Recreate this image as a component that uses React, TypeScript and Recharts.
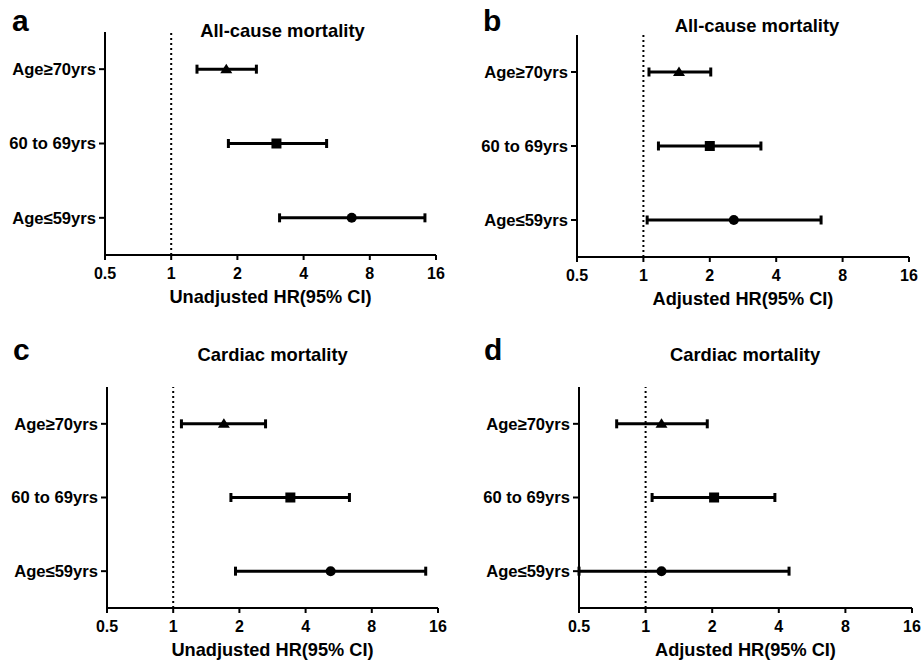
import { ScatterChart, Scatter, XAxis, YAxis, ErrorBar, ReferenceLine, Label } from 'recharts';

const groups = ['Age≥70yrs', '60 to 69yrs', 'Age≤59yrs'];
const markers = ['triangle', 'square', 'circle'];
const xTicks = [0.5, 1, 2, 4, 8, 16];

// a: all-cause, unadjusted
const aHR = [1.78, 3.01, 6.62];
const aLo = [1.31, 1.82, 3.11];
const aHi = [2.44, 5.09, 14.25];
// b: all-cause, adjusted
const bHR = [1.45, 2.0, 2.57];
const bLo = [1.06, 1.17, 1.04];
const bHi = [2.02, 3.41, 6.39];
// c: cardiac, unadjusted
const cHR = [1.7, 3.41, 5.2];
const cLo = [1.09, 1.83, 1.92];
const cHi = [2.63, 6.33, 14.07];
// d: cardiac, adjusted
const dHR = [1.18, 2.04, 1.18];
const dLo = [0.74, 1.07, 0.5];
const dHi = [1.9, 3.84, 4.45];

const FONT = '"Liberation Sans", Arial, sans-serif';

const buildRows = (hr: number[], lo: number[], hi: number[]) =>
  groups.map((g, i) => ({
    group: g,
    row: groups.length - i,
    hr: hr[i],
    err: [hr[i] - lo[i], hi[i] - hr[i]],
    marker: markers[i],
  }));

const Marker = (props: any) => {
  const { cx, cy, payload } = props;
  if (cx == null || cy == null) return null;
  if (payload.marker === 'triangle') {
    return <polygon points={`${cx},${cy - 5.5} ${cx + 6},${cy + 4} ${cx - 6},${cy + 4}`} fill="#000" />;
  }
  if (payload.marker === 'square') {
    return <rect x={cx - 5} y={cy - 5} width={10} height={10} fill="#000" />;
  }
  return <circle cx={cx} cy={cy} r={5} fill="#000" />;
};

type PanelProps = {
  box: { x: number; y: number; w: number; h: number };
  plot: { left: number; top: number; right: number; bottom: number };
  rows: ReturnType<typeof buildRows>;
  xLabel: string;
};

const AXIS_H = 50;
const YAXIS_W = 100;

const Panel = ({ box, plot, rows, xLabel }: PanelProps) => {
  const margin = {
    top: plot.top - box.y,
    left: plot.left - box.x - YAXIS_W,
    right: box.x + box.w - plot.right,
    bottom: box.y + box.h - plot.bottom - AXIS_H,
  };
  const xTick = { fill: '#000', fontSize: 16, fontWeight: 'bold', fontFamily: FONT };
  const yTick = { fill: '#000', fontSize: 16.6, fontWeight: 'bold', fontFamily: FONT };
  const line = { stroke: '#000', strokeWidth: 2 };
  return (
    <div style={{ position: 'absolute', left: box.x, top: box.y }}>
      <ScatterChart width={box.w} height={box.h} margin={margin}>
        <XAxis
          type="number"
          dataKey="hr"
          scale="log"
          domain={[0.5, 16]}
          ticks={xTicks}
          allowDataOverflow
          height={AXIS_H}
          tick={xTick}
          tickSize={5}
          tickMargin={8}
          axisLine={line}
          tickLine={line}
          interval={0}
        >
          <Label
            value={xLabel}
            position="insideBottom"
            offset={2}
            style={{ fill: '#000', fontSize: 18.2, fontWeight: 'bold', fontFamily: FONT }}
          />
        </XAxis>
        <YAxis
          type="number"
          dataKey="row"
          domain={[0.5, 3.5]}
          ticks={[1, 2, 3]}
          width={YAXIS_W}
          tick={yTick}
          tickSize={6}
          tickMargin={3}
          axisLine={line}
          tickLine={line}
          tickFormatter={(v: number) => groups[groups.length - v]}
        />
        <ReferenceLine x={1} stroke="#000" strokeWidth={2} strokeDasharray="2 3" />
        <Scatter data={rows} shape={Marker} isAnimationActive={false}>
          <ErrorBar dataKey="err" direction="x" width={4.5} strokeWidth={3} stroke="#000" />
        </Scatter>
      </ScatterChart>
    </div>
  );
};

const titleStyle = { fontSize: 18.4, fontWeight: 'bold', fontFamily: FONT, fill: '#000' } as const;
const letterStyle = { fontSize: 30, fontWeight: 'bold', fontFamily: FONT, fill: '#000' } as const;

export default function App() {
  return (
    <div style={{ position: 'absolute', left: 0, top: 0, width: 921, height: 663, background: '#fff', overflow: 'hidden' }}>
      <Panel
        box={{ x: 0, y: 0, w: 460, h: 330 }}
        plot={{ left: 105, top: 32, right: 436, bottom: 255 }}
        rows={buildRows(aHR, aLo, aHi)}
        xLabel="Unadjusted HR(95% CI)"
      />
      <Panel
        box={{ x: 460, y: 0, w: 461, h: 330 }}
        plot={{ left: 577, top: 35, right: 909, bottom: 257 }}
        rows={buildRows(bHR, bLo, bHi)}
        xLabel="Adjusted HR(95% CI)"
      />
      <Panel
        box={{ x: 0, y: 330, w: 460, h: 333 }}
        plot={{ left: 107, top: 387, right: 438, bottom: 608 }}
        rows={buildRows(cHR, cLo, cHi)}
        xLabel="Unadjusted HR(95% CI)"
      />
      <Panel
        box={{ x: 460, y: 330, w: 461, h: 333 }}
        plot={{ left: 579, top: 387, right: 912, bottom: 608 }}
        rows={buildRows(dHR, dLo, dHi)}
        xLabel="Adjusted HR(95% CI)"
      />
      <svg width={921} height={663} style={{ position: 'absolute', left: 0, top: 0, pointerEvents: 'none' }}>
        <text x={12} y={31} style={letterStyle}>a</text>
        <text x={483} y={31} style={letterStyle}>b</text>
        <text x={13} y={360} style={letterStyle}>c</text>
        <text x={484} y={360} style={letterStyle}>d</text>
        <text x={282.5} y={37} textAnchor="middle" style={titleStyle}>All-cause mortality</text>
        <text x={757} y={32} textAnchor="middle" style={titleStyle}>All-cause mortality</text>
        <text x={272.7} y={360.5} textAnchor="middle" style={titleStyle}>Cardiac mortality</text>
        <text x={745} y={360.5} textAnchor="middle" style={titleStyle}>Cardiac mortality</text>
      </svg>
    </div>
  );
}
